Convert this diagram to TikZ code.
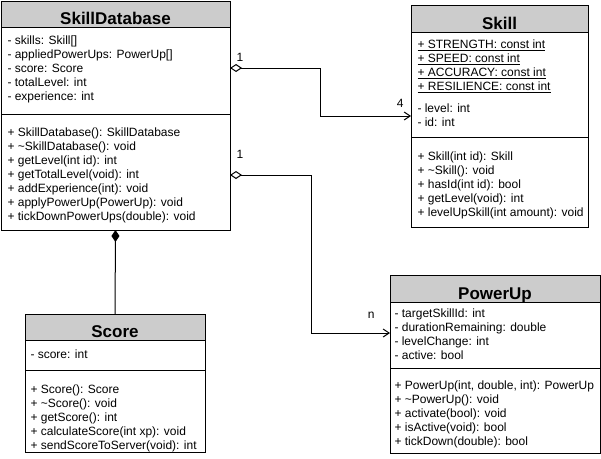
\documentclass[tikz,border=0pt]{standalone}
\usepackage{fontspec}
\setmainfont{Liberation Sans}
\usepackage{tikz}
\usetikzlibrary{arrows.meta,fit}

\begin{document}
\begin{tikzpicture}[x=1pt, y=-1pt, line width=1pt,
    head/.style={draw, fill=gray!40, anchor=north west, inner sep=0pt, outer sep=0pt},
    part/.style={draw, fill=white, anchor=north west, inner sep=0pt, outer sep=0pt},
    title/.style={anchor=base, font=\fontsize{17}{20}\selectfont\bfseries},
    members/.style={anchor=north west, inner sep=0pt, align=left, font=\fontsize{12}{14}\selectfont},
    mult/.style={inner sep=0pt, font=\fontsize{12}{14}\selectfont},
    aggr/.style={{Diamond[open,length=12pt,width=8pt]}-{Straight Barb[length=6pt,width=8pt]}},
    comp/.style={{Diamond[length=12pt,width=8pt]}-}]
  \useasboundingbox (0,0) rectangle (601,458);

  % SkillDatabase
  \node[head, minimum width=229pt, minimum height=26pt] (dbhead) at (1,1) {};
  \node[part, minimum width=229pt, minimum height=87pt] (dbattr) at (dbhead.south west) {};
  \node[part, minimum width=229pt, minimum height=116pt] (dbops) at (dbattr.south west) {};
  \node[fit=(dbhead)(dbops), inner sep=0pt, outer sep=0pt] (db) {};
  \node[title] (dbname) at ([yshift=2.5pt]dbhead.south) {SkillDatabase};
  \node[members] (dbattrs) at ([shift={(6,7)}]dbattr.north west)
    {\strut- skills: Skill[]\\- appliedPowerUps: PowerUp[]\\- score: Score\\- totalLevel: int\\- experience: int};
  \node[members] (dbmethods) at ([shift={(6,12)}]dbops.north west)
    {\strut+ SkillDatabase(): SkillDatabase\\+ \textasciitilde SkillDatabase(): void\\+ getLevel(int id): int\\
     + getTotalLevel(void): int\\+ addExperience(int): void\\+ applyPowerUp(PowerUp): void\\+ tickDownPowerUps(double): void};

  % Skill
  \node[head, minimum width=177pt, minimum height=27pt] (skhead) at (411,5) {};
  \node[part, minimum width=177pt, minimum height=105pt] (skattr) at (skhead.south west) {};
  \node[part, minimum width=177pt, minimum height=90pt] (skops) at (skattr.south west) {};
  \node[fit=(skhead)(skops), inner sep=0pt, outer sep=0pt] (sk) {};
  \node[title] (skname) at ([yshift=2.5pt]skhead.south) {Skill};
  \node[members] (skattrs) at ([shift={(6,6)}]skattr.north west)
    {\strut\underline{+ STRENGTH: const int}\\\underline{+ SPEED: const int}\\\underline{+ ACCURACY: const int}\\
     \underline{+ RESILIENCE: const int}\\[8pt]- level: int\\- id: int};
  \node[members] (skmethods) at ([shift={(6,13)}]skops.north west)
    {\strut+ Skill(int id): Skill\\+ \textasciitilde Skill(): void\\+ hasId(int id): bool\\+ getLevel(void): int\\
     + levelUpSkill(int amount): void};

  % Score
  \node[head, minimum width=180pt, minimum height=26pt] (schead) at (25,314) {};
  \node[part, minimum width=180pt, minimum height=30pt] (scattr) at (schead.south west) {};
  \node[part, minimum width=180pt, minimum height=82pt] (scops) at (scattr.south west) {};
  \node[fit=(schead)(scops), inner sep=0pt, outer sep=0pt] (sc) {};
  \node[title] (scname) at ([yshift=2.5pt]schead.south) {Score};
  \node[members] (scattrs) at ([shift={(5,8)}]scattr.north west) {\strut- score: int};
  \node[members] (scmethods) at ([shift={(5,13)}]scops.north west)
    {\strut+ Score(): Score\\+ \textasciitilde Score(): void\\+ getScore(): int\\+ calculateScore(int xp): void\\
     + sendScoreToServer(void): int};

  % PowerUp
  \node[head, minimum width=210pt, minimum height=27pt] (puhead) at (390,275) {};
  \node[part, minimum width=210pt, minimum height=66pt] (puattr) at (puhead.south west) {};
  \node[part, minimum width=210pt, minimum height=85pt] (puops) at (puattr.south west) {};
  \node[fit=(puhead)(puops), inner sep=0pt, outer sep=0pt] (pu) {};
  \node[title] (puname) at ([yshift=2.5pt]puhead.south) {PowerUp};
  \node[members] (puattrs) at ([shift={(4,5)}]puattr.north west)
    {\strut- targetSkillId: int\\- durationRemaining: double\\- levelChange: int\\- active: bool};
  \node[members] (pumethods) at ([shift={(4,11)}]puops.north west)
    {\strut+ PowerUp(int, double, int): PowerUp\\+ \textasciitilde PowerUp(): void\\+ activate(bool): void\\
     + isActive(void): bool\\+ tickDown(double): bool};

  % associations
  \draw[aggr] ([yshift=-67pt]db.north east) -- ++(90,0)
    node[mult, pos=0, anchor=base west, xshift=6pt, yshift=7pt] (dbskmult) {1}
    |- node[mult, pos=1, anchor=base east, xshift=-7pt, yshift=9pt] (skmult) {4} (sk.west);
  \draw[aggr] ([yshift=-174pt]db.north east) -- ++(81,0)
    node[mult, pos=0, anchor=base west, xshift=6pt, yshift=17pt] (dbpumult) {1}
    |- node[mult, pos=1, anchor=base east, xshift=-15pt, yshift=14.5pt] (pumult) {n} ([yshift=31pt]pu.west);
  \draw[comp] (db.south) -- (sc.north);
\end{tikzpicture}
\end{document}
